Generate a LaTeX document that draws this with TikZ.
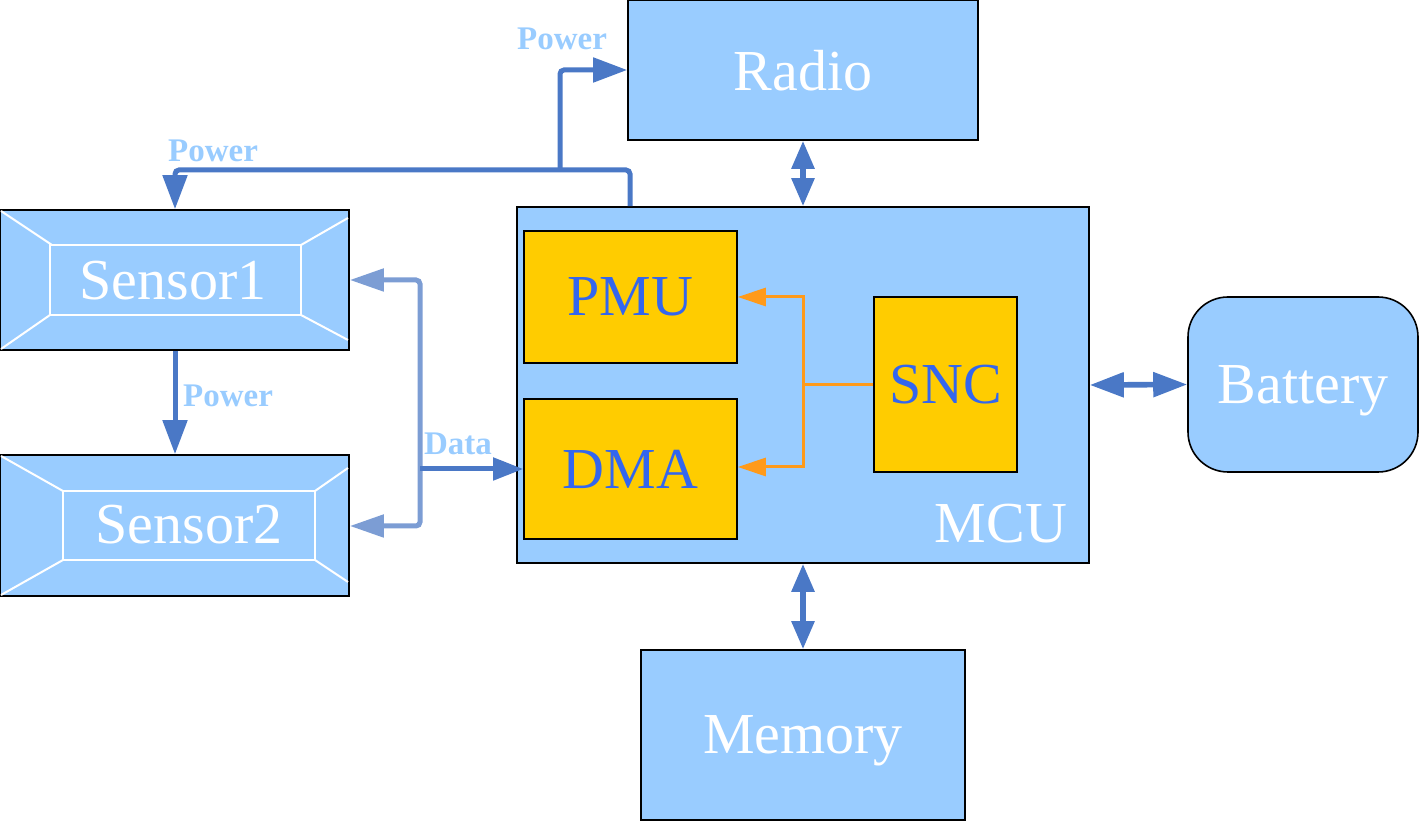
\documentclass[tikz,border=0pt]{standalone}
\usepackage{fontspec}
\setmainfont{Liberation Serif}
\usetikzlibrary{arrows.meta}
\definecolor{boxblue}{HTML}{99CCFF}
\definecolor{boxorange}{HTML}{FFCC00}
\definecolor{txtblue}{HTML}{3366EE}
\definecolor{arrblue}{HTML}{4A78C6}
\definecolor{busblue}{HTML}{7C9DD4}
\definecolor{lblblue}{HTML}{99CCFF}
\definecolor{orangeline}{HTML}{FF9A1A}
\tikzset{
  bigfont/.style={font=\fontsize{29}{31}\selectfont, text depth=0pt},
  bluebox/.style={draw=black, line width=0.8pt, fill=boxblue, text=white, bigfont, inner sep=0pt},
  orangebox/.style={draw=black, line width=0.8pt, fill=boxorange, text=txtblue, bigfont, inner sep=0pt},
  boxtext/.style={text=white, bigfont, inner sep=0pt},
  bevel/.style={draw=white, line width=1pt},
  pow/.style={draw=arrblue, line width=2.5pt, rounded corners=2pt},
  bus/.style={draw=busblue, line width=2.5pt, rounded corners=2pt},
  org/.style={draw=orangeline, line width=1.5pt},
  dbl/.style={draw=arrblue, line width=2.8pt, {Triangle[width=11pt,length=14pt]}-{Triangle[width=11pt,length=14pt]}},
  lbl/.style={text=lblblue, font=\bfseries\fontsize{16.5}{18}\selectfont, inner sep=0pt},
  bigtip/.style={-{Triangle[width=12pt,length=17pt]}},
}
\begin{document}
\begin{tikzpicture}[x=0.5pt,y=-0.5pt]
\useasboundingbox (0,0) rectangle (1419,822);

% boxes
\node[bluebox, minimum width=175pt, minimum height=70pt] (radio) at (803,70) {Radio};
\node[bluebox, minimum width=286pt, minimum height=178pt] (mcu) at (803,385) {};
\node[boxtext] (mculbl) at (1001,523) {MCU};
\node[orangebox, minimum width=106.5pt, minimum height=66pt] (pmu) at (630.5,297) {PMU};
\node[orangebox, minimum width=106.5pt, minimum height=70pt] (dma) at (630.5,469) {DMA};
\node[orangebox, minimum width=71.5pt, minimum height=87.5pt] (snc) at (945.5,384.5) {SNC};
\node[bluebox, rounded corners=20pt, minimum width=115pt, minimum height=87.5pt] (battery) at (1303,384.5) {Battery};
\node[bluebox, minimum width=162pt, minimum height=85pt] (memory) at (803,735) {Memory};

% sensors with bevel
\node[bluebox, minimum width=174.5pt, minimum height=70pt] (s1) at (174.5,280) {};
\draw[bevel] (50,245) rectangle (301,315);
\draw[bevel] (1,211) -- (52,245) (348,218) -- (301,245) (301,315) -- (348,340) (1,349) -- (50,315);
\node[boxtext] (s1lbl) at (173,280) {Sensor1};

\node[bluebox, minimum width=174.5pt, minimum height=70.5pt] (s2) at (174.5,525.5) {};
\draw[bevel] (63,491) rectangle (315,560);
\draw[bevel] (1,456) -- (63,491) (348,468) -- (315,491) (315,560) -- (348,582) (1,595) -- (63,560);
\node[boxtext] (s2lbl) at (189,524) {Sensor2};

% power connectors
\coordinate (p1) at (630,170);
\coordinate (p2) at (175,170);
\coordinate (p3) at (560,170);
\draw[pow, bigtip] (p1 |- mcu.north) -- (p1) -- (p2) -- (p2 |- s1.north);
\draw[pow, bigtip] (p3) -- (p3 |- radio.west) -- (radio.west);
\draw[pow, rounded corners=0pt, bigtip] (p2 |- s1.south) -- (p2 |- s2.north);

% data bus
\coordinate (d1) at (420,280);
\coordinate (d2) at (420,526);
\draw[bus, {Triangle[width=11pt,length=17pt]}-{Triangle[width=11pt,length=17pt]}] (s1.east |- d1) -- (d1) -- (d2) -- (s2.east |- d2);
\draw[pow, rounded corners=0pt, -{Triangle[width=11pt,length=15pt]}] (d1 |- dma.west) -- (dma.west);

% orange connectors
\coordinate (o1) at (803,385);
\draw[org] (snc.west) -- (o1 |- snc.west);
\draw[org, {Triangle[width=9pt,length=14pt]}-{Triangle[width=9pt,length=14pt]}] (pmu.east) -- (pmu.east -| o1) -- (o1 |- 0,467) -- (dma.east |- 0,467);

% double arrows
\draw[dbl] (radio.south) -- (mcu.north);
\draw[dbl] (mcu.south) -- (memory.north);
\draw[dbl, {Triangle[width=12pt,length=17pt]}-{Triangle[width=12pt,length=17pt]}] (mcu.east) -- (battery.west);

% labels
\node[lbl] (l1) at (562,39) {Power};
\node[lbl] (l2) at (213,151) {Power};
\node[lbl] (l3) at (228,396) {Power};
\node[lbl] (l4) at (458,444) {Data};
\end{tikzpicture}
\end{document}
